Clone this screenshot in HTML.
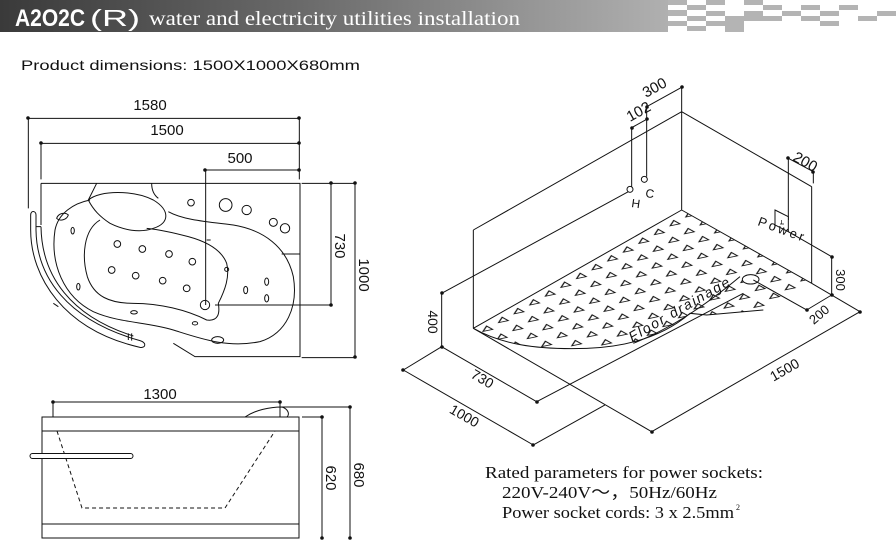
<!DOCTYPE html>
<html><head><meta charset="utf-8"><style>
html,body{margin:0;padding:0;background:#fff;}
svg{display:block;}
</style></head><body>
<svg width="896" height="540" viewBox="0 0 896 540" xmlns="http://www.w3.org/2000/svg">
<defs>
<linearGradient id="hg" x1="0" x2="1" y1="0" y2="0">
<stop offset="0" stop-color="#3a3a3a"/><stop offset="0.45" stop-color="#6a6a6a"/><stop offset="1" stop-color="#b0b0b0"/>
</linearGradient>
<pattern id="tri" width="12" height="12" patternUnits="userSpaceOnUse" patternTransform="matrix(3.9,-2.2,3.6,2.0,0,0)">
<path d="M3,6 L8,3.5 L8,8.5 Z" fill="none" stroke="#111" stroke-width="0.8"/>
</pattern>
</defs>
<!-- header -->
<rect x="0" y="0" width="668" height="32" fill="url(#hg)"/>
<g fill="#b4b4b4">
<rect x="668" y="0" width="19" height="5"/><rect x="668" y="10" width="19" height="6"/><rect x="668" y="21" width="19" height="5"/>
<rect x="687" y="5" width="19" height="5"/><rect x="687" y="16" width="19" height="5"/><rect x="687" y="26" width="19" height="5"/>
<rect x="706" y="0" width="19" height="5"/><rect x="706" y="11" width="19" height="5"/><rect x="706" y="21" width="19" height="5"/>
<rect x="725" y="16" width="19" height="16"/>
<rect x="744" y="0" width="19" height="5"/><rect x="744" y="11" width="19" height="10"/>
<rect x="763" y="5" width="19" height="5"/><rect x="763" y="16" width="19" height="5"/>
<rect x="782" y="11" width="19" height="5"/>
<rect x="801" y="5" width="19" height="5"/><rect x="801" y="16" width="19" height="5"/>
<rect x="820" y="11" width="19" height="5"/><rect x="820" y="21" width="19" height="5"/>
<rect x="839" y="5" width="19" height="5"/>
<rect x="858" y="16" width="19" height="5"/>
<rect x="877" y="11" width="19" height="5"/>
</g>
<text x="15" y="26" fill="#fff" font-family="Liberation Sans, sans-serif" font-weight="bold" font-size="24" textLength="70" lengthAdjust="spacingAndGlyphs">A2O2C</text>
<text x="90" y="26" fill="#fff" font-family="Liberation Sans, sans-serif" font-size="23" textLength="50" lengthAdjust="spacingAndGlyphs">(R)</text>
<text x="149" y="25" fill="#fff" font-family="Liberation Serif, serif" font-size="20" textLength="371" lengthAdjust="spacingAndGlyphs">water and electricity utilities installation</text>
<text x="21" y="70" fill="#111" font-family="Liberation Sans, sans-serif" font-size="14" textLength="339" lengthAdjust="spacingAndGlyphs">Product dimensions: 1500X1000X680mm</text>

<!-- plan view -->
<g transform="translate(0,90) scale(0.33333)" fill="none" stroke="#111" stroke-width="3">
<path d="M85,85 H898 M85,85 V355 M123,160 H898 M123,160 V268 M617,240 H898 M617,240 V645 M898,85 V268"/>
<path d="M905,280 H1065 M645,645 H993 M905,803 H1065 M993,280 V645 M1065,280 V803"/>
<path d="M123,280 H900 V800 H585 L520,760"/>
<path d="M123,280 V405"/>
<path d="M290,280 L265,330 M455,280 C455,300 462,315 475,325"/>
<path d="M265,330 C300,300 400,300 460,330 C510,360 510,400 460,415 C420,430 370,420 330,400 C300,380 280,360 265,330 Z"/>
<path d="M270,330 C220,340 175,370 165,420 C150,520 190,620 280,665 C360,700 440,695 520,720 C600,745 680,775 780,755 C860,730 895,650 880,560 C860,470 790,420 700,405 C620,395 550,390 505,365"/>
<path d="M300,390 C250,420 245,500 262,560 C282,620 330,640 400,640 C480,640 560,660 620,690 C655,695 660,670 655,640 C675,600 690,560 680,520 C665,480 620,455 565,440 C510,425 470,418 440,415"/>
<path d="M92,375 C92,360 108,362 108,375 L108,420 C110,560 200,690 420,752 C440,758 438,775 420,772 C190,720 92,560 92,420 Z"/>
<path d="M123,410 C125,560 215,680 400,738 M108,410 H123 M160,640 L175,650 M385,730 V750 M395,730 V752"/>
<path d="M845,492 H900 M620,450 H632"/>
<g>
<circle cx="352" cy="462" r="10"/><circle cx="427" cy="477" r="10"/><circle cx="507" cy="492" r="10"/><circle cx="577" cy="515" r="10"/>
<circle cx="335" cy="540" r="10"/><circle cx="407" cy="557" r="10"/><circle cx="488" cy="572" r="10"/><circle cx="560" cy="595" r="10"/>
<circle cx="573" cy="338" r="10"/><circle cx="677" cy="345" r="19"/><circle cx="740" cy="360" r="14"/><circle cx="820" cy="397" r="12"/><circle cx="855" cy="415" r="14"/>
<ellipse cx="218" cy="422" rx="5" ry="10"/><ellipse cx="235" cy="590" rx="5" ry="10"/><ellipse cx="402" cy="667" rx="10" ry="5"/><ellipse cx="585" cy="700" rx="8" ry="5"/>
<ellipse cx="737" cy="600" rx="6" ry="11"/><ellipse cx="800" cy="575" rx="6" ry="11"/><ellipse cx="800" cy="625" rx="6" ry="11"/><circle cx="680" cy="538" r="6"/>
<ellipse cx="653" cy="750" rx="18" ry="10"/><circle cx="615" cy="645" r="14"/>
<path d="M170,385 C175,370 195,365 205,375 C200,390 180,395 170,385 Z"/>
</g>
</g>
<g fill="#111">
<circle cx="28" cy="118" r="1.8"/><circle cx="299" cy="118" r="1.8"/><circle cx="41" cy="143" r="1.8"/><circle cx="299" cy="143" r="1.8"/>
<circle cx="205" cy="170" r="1.8"/><circle cx="299" cy="170" r="1.8"/><circle cx="331" cy="183" r="1.8"/><circle cx="331" cy="305" r="1.8"/>
<circle cx="355" cy="183" r="1.8"/><circle cx="355" cy="357" r="1.8"/>
</g>
<g font-family="Liberation Sans, sans-serif" font-size="15" fill="#111">
<text x="150" y="110" text-anchor="middle">1580</text>
<text x="167" y="135" text-anchor="middle">1500</text>
<text x="240" y="163" text-anchor="middle">500</text>
<text transform="translate(335,246) rotate(90)" text-anchor="middle">730</text>
<text transform="translate(359,275) rotate(90)" text-anchor="middle">1000</text>
</g>

<!-- elevation -->
<g fill="none" stroke="#111" stroke-width="1">
<rect x="42" y="417" width="257" height="121"/>
<path d="M42,431 H299 M42,524 H299"/>
<path d="M53,402 H280 M53,402 V417 M280,402 V417"/>
<path d="M245,417 C255,410 270,407 282,407 C288,409 290,414 287,417"/>
<path d="M282,407 H350 M302,417 H322 M322,417 V538 M350,407 V538"/>
<path d="M57,431 L82,508 H225 L275,431" stroke-dasharray="4,3"/>
<rect x="30" y="453.5" width="103" height="5" rx="2.5" fill="#fff"/>
</g>
<g fill="#111">
<circle cx="53" cy="402" r="1.8"/><circle cx="280" cy="402" r="1.8"/><circle cx="322" cy="417" r="1.8"/><circle cx="322" cy="538" r="1.8"/><circle cx="350" cy="407" r="1.8"/><circle cx="350" cy="538" r="1.8"/>
</g>
<g font-family="Liberation Sans, sans-serif" font-size="15" fill="#111">
<text x="160" y="399" text-anchor="middle">1300</text>
<text transform="translate(326,478) rotate(90)" text-anchor="middle">620</text>
<text transform="translate(354,475) rotate(90)" text-anchor="middle">680</text>
</g>

<!-- isometric -->
<g transform="translate(400,80) scale(0.33333)" fill="none" stroke="#111" stroke-width="3">
<path d="M220,745 L845,390 L1235,610 L1090,690 L920,705 L870,700 C800,760 700,800 560,805 C400,810 300,790 220,745 Z" fill="url(#tri)" stroke="none"/>
<path d="M220,745 C300,790 400,810 560,805 C700,800 800,760 870,700 L920,705 L1090,690"/>
<path d="M700,790 C800,750 900,690 1020,590"/>
<ellipse cx="1052" cy="598" rx="25" ry="14" fill="#fff"/>
<path d="M220,450 L845,95 M220,450 V745 M845,22 V390 M845,95 L1235,320 M1235,320 V610 M220,745 L845,390 M845,390 L1235,610"/>
<path d="M695,143 V320 M740,80 V290 M695,143 L740,118 M740,80 L845,22 M125,640 L685,335 M125,640 V800"/>
<path d="M1165,235 V420 M1165,235 L1240,275 M1240,275 V310 M1165,455 L1295,530 M1295,530 V645"/>
<path d="M1125,390 L1165,410 V455 L1125,435 Z" fill="#fff"/>
<path d="M1145,420 L1145,432 M1140,432 L1152,432" stroke-width="2"/>
<path d="M1295,645 L1220,690 M1060,600 L1220,690 M755,1055 L1380,695 M1235,610 L1380,695 M220,745 L755,1055"/>
<path d="M125,800 L410,965 M410,965 L1030,640 M10,870 L125,800 M10,870 L400,1095 M400,1095 L615,975"/>
<circle cx="690" cy="328" r="9" fill="#fff"/><circle cx="733" cy="298" r="9" fill="#fff"/>
</g>
<g fill="#111">
<circle cx="632" cy="128" r="1.8"/><circle cx="647" cy="119" r="1.8"/><circle cx="647" cy="107" r="1.8"/><circle cx="682" cy="87" r="1.8"/>
<circle cx="442" cy="293" r="1.8"/><circle cx="442" cy="347" r="1.8"/><circle cx="788" cy="158" r="1.8"/><circle cx="813" cy="172" r="1.8"/>
<circle cx="832" cy="257" r="1.8"/><circle cx="832" cy="295" r="1.8"/><circle cx="807" cy="310" r="1.8"/><circle cx="860" cy="312" r="1.8"/>
<circle cx="652" cy="432" r="1.8"/><circle cx="537" cy="402" r="1.8"/><circle cx="403" cy="370" r="1.8"/><circle cx="533" cy="445" r="1.8"/>
</g>
<g font-family="Liberation Sans, sans-serif" font-size="15" fill="#111">
<text transform="translate(630,122) rotate(-29)">102</text>
<text transform="translate(646,98) rotate(-29)">300</text>
<text transform="translate(792,160) rotate(29)">200</text>
<text transform="translate(428,322) rotate(90)" text-anchor="middle" font-size="14">400</text>
<text transform="translate(836,280) rotate(90)" text-anchor="middle" font-size="13">300</text>
<text transform="translate(822,318) rotate(-40)" text-anchor="middle" font-size="13">200</text>
<text transform="translate(787,374) rotate(-30)" text-anchor="middle" font-size="14">1500</text>
<text transform="translate(480,383) rotate(30)" text-anchor="middle" font-size="14">730</text>
<text transform="translate(462,420) rotate(30)" text-anchor="middle" font-size="14">1000</text>
<text transform="translate(631,207) rotate(8)" font-size="12">H</text>
<text transform="translate(645,197) rotate(8)" font-size="12">C</text>
<text transform="translate(757,225) rotate(20)" font-size="13" textLength="48" lengthAdjust="spacing">Power</text>
<text transform="translate(632,342) rotate(-30)" font-size="14" font-style="italic" textLength="114" lengthAdjust="spacing">Floor drainage</text>
</g>

<!-- rated text -->
<g font-family="Liberation Serif, serif" font-size="17" fill="#111">
<text x="485" y="478" textLength="278" lengthAdjust="spacingAndGlyphs">Rated parameters for power sockets:</text>
<text x="502" y="498" textLength="215" lengthAdjust="spacingAndGlyphs">220V-240V～，50Hz/60Hz</text>
<text x="502" y="518" textLength="232" lengthAdjust="spacingAndGlyphs">Power socket cords: 3 x 2.5mm</text>
<text x="736" y="510" font-size="8">2</text>
</g>
</svg>
</body></html>
